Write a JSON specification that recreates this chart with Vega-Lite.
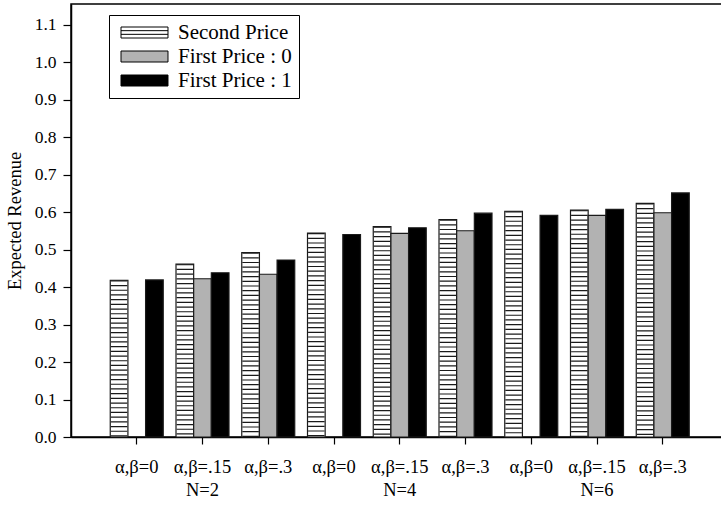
{
  "$schema": "https://vega.github.io/schema/vega-lite/v6.json",
  "autosize": "none",
  "padding": {"left": 71, "top": 4, "right": 0, "bottom": 69},
  "width": 657.5,
  "height": 433,
  "background": "white",
  "config": {
    "font": "Liberation Serif",
    "view": {"stroke": "black", "strokeWidth": 1.5},
    "axis": {"domainColor": "black", "domainWidth": 1.5, "tickColor": "black", "tickWidth": 1.2, "labelColor": "black", "titleColor": "black", "labelFont": "Liberation Serif", "titleFont": "Liberation Serif", "grid": false},
    "legend": {"orient": "none", "legendX": 38, "legendY": 11, "strokeColor": "black", "fillColor": "white", "padding": 7,
      "labelFontSize": 21, "labelFont": "Liberation Serif", "labelColor": "black", "labelOffset": 41,
      "symbolSize": 121, "symbolStrokeColor": "black", "symbolStrokeWidth": 1, "symbolOpacity": 1, "rowPadding": 2}
  },
  "data": {
    "values": [
      {"key": "N=2 α,β=0", "series": "Second Price", "v": 0.418},
      {"key": "N=2 α,β=0", "series": "First Price : 1", "v": 0.419},
      {"key": "N=2 α,β=.15", "series": "Second Price", "v": 0.461},
      {"key": "N=2 α,β=.15", "series": "First Price : 0", "v": 0.422},
      {"key": "N=2 α,β=.15", "series": "First Price : 1", "v": 0.438},
      {"key": "N=2 α,β=.3", "series": "Second Price", "v": 0.492},
      {"key": "N=2 α,β=.3", "series": "First Price : 0", "v": 0.434},
      {"key": "N=2 α,β=.3", "series": "First Price : 1", "v": 0.472},
      {"key": "N=4 α,β=0", "series": "Second Price", "v": 0.544},
      {"key": "N=4 α,β=0", "series": "First Price : 1", "v": 0.540},
      {"key": "N=4 α,β=.15", "series": "Second Price", "v": 0.561},
      {"key": "N=4 α,β=.15", "series": "First Price : 0", "v": 0.543},
      {"key": "N=4 α,β=.15", "series": "First Price : 1", "v": 0.558},
      {"key": "N=4 α,β=.3", "series": "Second Price", "v": 0.580},
      {"key": "N=4 α,β=.3", "series": "First Price : 0", "v": 0.550},
      {"key": "N=4 α,β=.3", "series": "First Price : 1", "v": 0.597},
      {"key": "N=6 α,β=0", "series": "Second Price", "v": 0.602},
      {"key": "N=6 α,β=0", "series": "First Price : 1", "v": 0.591},
      {"key": "N=6 α,β=.15", "series": "Second Price", "v": 0.605},
      {"key": "N=6 α,β=.15", "series": "First Price : 0", "v": 0.591},
      {"key": "N=6 α,β=.15", "series": "First Price : 1", "v": 0.607},
      {"key": "N=6 α,β=.3", "series": "Second Price", "v": 0.623},
      {"key": "N=6 α,β=.3", "series": "First Price : 0", "v": 0.598},
      {"key": "N=6 α,β=.3", "series": "First Price : 1", "v": 0.651}
    ]
  },
  "encoding": {
    "x": {
      "field": "key", "type": "nominal", "sort": null,
      "scale": {"paddingInner": 0.194, "paddingOuter": 0.597},
      "axis": {
        "title": null, "labelAngle": 0, "labelFontSize": 18.5, "labelPadding": 13,
        "tickSize": 7, "labelLineHeight": 23.5,
        "labelExpr": "indexof(datum.value, '.15') >= 0 ? [split(datum.value, ' ')[1], split(datum.value, ' ')[0]] : split(datum.value, ' ')[1]"
      }
    },
    "xOffset": {
      "field": "series", "type": "nominal",
      "scale": {"domain": ["Second Price", "First Price : 0", "First Price : 1"], "paddingInner": 0, "paddingOuter": 0}
    },
    "y": {
      "field": "v", "type": "quantitative",
      "scale": {"domain": [0, 1.1547], "nice": false},
      "axis": {
        "title": "Expected Revenue", "values": [0, 0.1, 0.2, 0.3, 0.4, 0.5, 0.6, 0.7, 0.8, 0.9, 1.0, 1.1],
        "format": ".1f", "labelFontSize": 17.5, "labelPadding": 7, "tickSize": 8,
        "titleFontSize": 18.5, "titleFontWeight": "normal", "titlePadding": 10
      }
    }
  },
  "layer": [
    {
      "mark": {"type": "bar", "stroke": "#1a1a1a", "strokeWidth": 1.2},
      "encoding": {
        "color": {
          "field": "series", "type": "nominal",
          "scale": {"domain": ["Second Price", "First Price : 0", "First Price : 1"], "range": ["white", "#b2b2b2", "black"]},
          "legend": {"title": null, "encode": {"symbols": {"update": {"stroke": {"value": "black"}, "strokeWidth": {"value": 1}, "strokeOpacity": {"value": 1}}}}}
        }
      }
    },
    {
      "transform": [{"filter": "datum.series === 'Second Price'"}],
      "mark": {"type": "rule", "stroke": "#1a1a1a", "strokeWidth": 16.5, "strokeDash": [1.2, 3.5], "strokeCap": "butt"},
      "encoding": {
        "y2": {"datum": 0}
      }
    },
    {
      "mark": {"type": "point", "filled": true, "opacity": 0, "size": 0, "stroke": "black", "strokeWidth": 1},
      "encoding": {
        "shape": {
          "field": "series", "type": "nominal",
          "scale": {"domain": ["Second Price", "First Price : 0", "First Price : 1"], "range": ["M-1,-1H7.545V1H-1Z M-1,-0.333H7.545 M-1,0.333H7.545", "M-1,-1H7.545V1H-1Z", "M-1,-1H7.545V1H-1Z"]},
          "legend": {"title": null, "encode": {"symbols": {"update": {"stroke": {"value": "black"}, "strokeWidth": {"value": 1}, "strokeOpacity": {"value": 1}}}}}
        }
      }
    }
  ]
}
